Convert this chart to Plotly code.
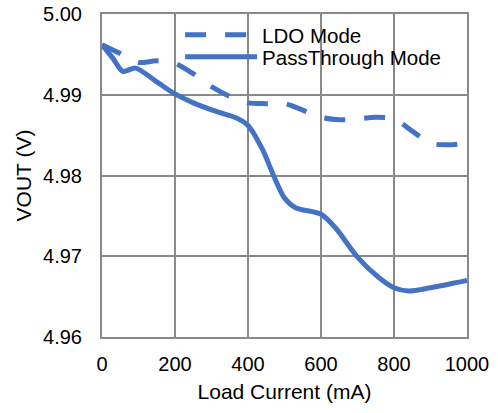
import plotly.graph_objects as go

# Data
ldo_x = [0, 50, 100, 150, 200, 250, 300, 350, 400, 450, 500, 550, 600, 650, 700, 750, 800, 850, 900, 950, 1000]
ldo_y = [4.9962, 4.9951, 4.9940, 4.9942, 4.9939, 4.9926, 4.9910, 4.9898, 4.9890, 4.9889, 4.9889,
         4.9881, 4.9872, 4.9869, 4.9870, 4.9872, 4.9870, 4.9855, 4.9840, 4.9838, 4.9840]

pt_x = [0, 30, 57, 92, 150, 200, 250, 315, 370, 400, 440, 470, 500, 530, 600, 640, 700, 760, 800, 840, 900, 1000]
pt_y = [4.9962, 4.9945, 4.9929, 4.9933, 4.9916, 4.9901, 4.9890, 4.9879, 4.9871, 4.9862, 4.9832, 4.9800,
        4.9772, 4.9760, 4.9752, 4.9735, 4.9699, 4.9673, 4.9661, 4.9657, 4.9661, 4.9670]

x_ticks = [0, 200, 400, 600, 800, 1000]
y_ticks = [4.96, 4.97, 4.98, 4.99, 5.00]
y_tick_labels = ["4.96", "4.97", "4.98", "4.99", "5.00"]

blue = "#4472C4"
grid = "#898989"
font = "Liberation Sans, Arial, sans-serif"

fig = go.Figure()
fig.add_trace(go.Scatter(x=ldo_x, y=ldo_y, mode="lines", name="LDO Mode", legend="legend",
                         line=dict(color=blue, width=5, dash="21px,19px", shape="spline", smoothing=0.8)))
fig.add_trace(go.Scatter(x=pt_x, y=pt_y, mode="lines", name="PassThrough Mode", legend="legend2",
                         line=dict(color=blue, width=5, shape="spline", smoothing=0.8)))

# white box behind the legend (hides gridlines, as in the reference)
fig.add_shape(type="rect", xref="paper", yref="paper", x0=0.225, x1=0.96, y0=0.835, y1=0.975,
              fillcolor="white", line=dict(width=0), layer="between")

leg_common = dict(x=0.214, xanchor="left", yanchor="middle", bgcolor="rgba(0,0,0,0)",
                  font=dict(size=20.5), itemwidth=72, borderwidth=0)
fig.update_layout(
    width=498, height=413,
    margin=dict(l=102, r=31, t=14, b=76),
    paper_bgcolor="white", plot_bgcolor="white",
    font=dict(family=font, size=20, color="black"),
    showlegend=True,
    legend=dict(y=0.935, **leg_common),
    legend2=dict(y=0.867, **leg_common),
)
fig.update_xaxes(range=[0, 1000], tickvals=x_ticks, showgrid=True, gridcolor=grid, gridwidth=2,
                 showline=True, linecolor=grid, linewidth=2, mirror=True, zeroline=False,
                 ticks="", ticklabelstandoff=8, automargin=False,
                 title=dict(text="Load Current (mA)", font=dict(size=21), standoff=10))
fig.update_yaxes(range=[4.96, 5.00], tickvals=y_ticks, ticktext=y_tick_labels, showgrid=True,
                 gridcolor=grid, gridwidth=2, showline=True, linecolor=grid, linewidth=2, mirror=True,
                 zeroline=False, ticks="", ticklabelstandoff=14, automargin=False,
                 title=dict(text="VOUT (V)", font=dict(size=21), standoff=6))

fig.write_html("out.html", config={"displayModeBar": False},
               post_script="document.body.style.margin='0';")
